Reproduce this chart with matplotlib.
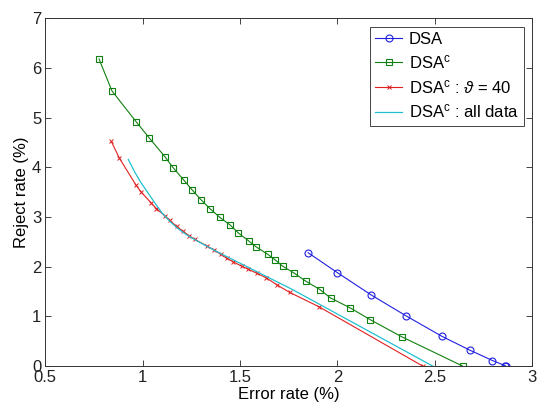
import matplotlib
matplotlib.use("Agg")
import matplotlib.pyplot as plt

plt.rcParams['font.family'] = ['Liberation Sans', 'DejaVu Sans']
plt.rcParams['mathtext.fontset'] = 'custom'
plt.rcParams['mathtext.rm'] = 'Liberation Sans'
plt.rcParams['mathtext.it'] = 'Liberation Sans:italic'

# DSA (blue circles)
dsa_x = [1.850, 2.000, 2.174, 2.353, 2.536, 2.680, 2.797, 2.860, 2.865]
dsa_y = [2.28, 1.88, 1.43, 1.01, 0.60, 0.32, 0.11, 0.01, 0.0]

# DSA^c (green squares)
dsac_x = [0.776, 0.842, 0.966, 1.032, 1.115, 1.157, 1.212, 1.253, 1.299, 1.345,
          1.397, 1.449, 1.491, 1.544, 1.582, 1.642, 1.679, 1.719, 1.778, 1.837,
          1.910, 1.965, 2.066, 2.170, 2.330, 2.643]
dsac_y = [6.18, 5.54, 4.92, 4.60, 4.21, 3.99, 3.74, 3.55, 3.35, 3.17,
          2.99, 2.84, 2.68, 2.52, 2.40, 2.25, 2.14, 2.01, 1.87, 1.71,
          1.54, 1.37, 1.17, 0.93, 0.59, 0.0]

# DSA^c : theta = 40 (red x)
th_x = [0.839, 0.881, 0.966, 0.993, 1.044, 1.071, 1.115, 1.140, 1.174, 1.205,
        1.239, 1.268, 1.328, 1.366, 1.400, 1.431, 1.465, 1.508, 1.542, 1.585,
        1.633, 1.691, 1.756, 1.907, 2.438]
th_y = [4.52, 4.18, 3.64, 3.50, 3.28, 3.17, 3.02, 2.93, 2.81, 2.72,
        2.62, 2.55, 2.42, 2.34, 2.25, 2.17, 2.10, 2.01, 1.95, 1.87,
        1.78, 1.63, 1.48, 1.19, 0.0]

# DSA^c : all data (cyan)
all_x = [0.926, 0.960, 0.990, 1.030, 1.063, 1.100, 1.140, 1.180, 1.226, 1.270,
         1.311, 1.397, 1.500, 1.637, 1.774, 2.489]
all_y = [4.16, 3.90, 3.70, 3.47, 3.28, 3.08, 2.91, 2.77, 2.64, 2.54,
         2.45, 2.27, 2.07, 1.80, 1.53, 0.0]

labels = ['DSA', r'DSA$^{\mathrm{c}}$', r'DSA$^{\mathrm{c}}$ : $\vartheta$ = 40',
          r'DSA$^{\mathrm{c}}$ : all data']

fig = plt.figure(figsize=(5.37, 4.05), dpi=100)
ax = fig.add_axes([0.0844, 0.0963, 0.9063, 0.8585])

ax.plot(dsa_x, dsa_y, color='#2020e0', lw=0.8, marker='o', ms=5,
        mfc='none', mew=0.8, label=labels[0])
ax.plot(dsac_x, dsac_y, color='#108010', lw=0.8, marker='s', ms=5,
        mfc='none', mew=0.8, label=labels[1])
ax.plot(th_x, th_y, color='#e02020', lw=0.8, marker='x', ms=3,
        mew=0.7, label=labels[2])
ax.plot(all_x, all_y, color='#20c0d0', lw=0.9, label=labels[3])

ax.set_xlim(0.5, 3)
ax.set_ylim(0, 7)
ax.set_xticks([0.5, 1, 1.5, 2, 2.5, 3])
ax.set_xticklabels(['0.5', '1', '1.5', '2', '2.5', '3'])
ax.set_yticks(range(0, 8))
ax.tick_params(direction='in', top=True, right=True, length=4, width=0.6,
               labelsize=12, colors='#222222', pad=3)
for s in ax.spines.values():
    s.set_linewidth(0.7)
    s.set_color('#333333')

ax.set_xlabel('Error rate (%)', fontsize=12, labelpad=1)
ax.set_ylabel('Reject rate (%)', fontsize=12, labelpad=2)

leg = ax.legend(loc='upper right', fontsize=12, frameon=True, fancybox=False,
                edgecolor='#444444', framealpha=1, handlelength=1.6,
                handletextpad=0.4, labelspacing=0.4, borderaxespad=0.5,
                borderpad=0.3)
leg.get_frame().set_linewidth(0.7)

fig.savefig('out.png', dpi=100)
